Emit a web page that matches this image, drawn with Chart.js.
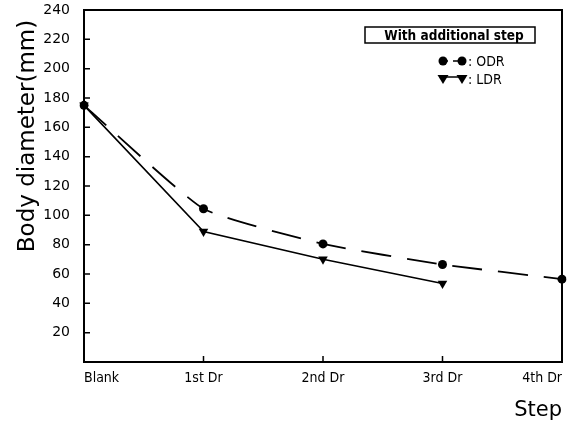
<!DOCTYPE html>
<html>
<head>
<meta charset="utf-8">
<script src="https://cdn.jsdelivr.net/npm/chart.js@4.4.1/dist/chart.umd.min.js"></script>
<style>
html,body{margin:0;padding:0;background:#fff;}
#wrap{width:577px;height:423px;position:relative;}
</style>
</head>
<body>
<div id="wrap"><canvas id="c" width="577" height="423"></canvas></div>
<script>
const categories = ['Blank', '1st Dr', '2nd Dr', '3rd Dr', '4th Dr'];
const odrValues = [175, 104.5, 80.5, 66.5, 56.5];
const ldrValues = [175, 89, 70, 53.5, null];
const yTicks = [20, 40, 60, 80, 100, 120, 140, 160, 180, 200, 220, 240];
const legendTitle = 'With additional step';
const seriesNames = ['ODR', 'LDR'];
const yTitle = 'Body diameter(mm)';
const xTitle = 'Step';

const FONT = "'DejaVu Sans', sans-serif";
const COND = "'DejaVu Sans Condensed', 'DejaVu Sans', sans-serif";

const framePlugin = {
  id: 'frame',
  afterDraw(chart) {
    const ctx = chart.ctx;
    const a = chart.chartArea;
    const xs = chart.scales.x, ys = chart.scales.y;
    ctx.save();
    ctx.strokeStyle = '#000';
    ctx.lineWidth = 2;
    ctx.strokeRect(a.left, a.top, a.right - a.left, a.bottom - a.top);
    ctx.lineWidth = 1.5;
    ctx.beginPath();
    yTicks.forEach(v => {
      const y = ys.getPixelForValue(v);
      ctx.moveTo(a.left, y);
      ctx.lineTo(a.left + 6, y);
    });
    categories.forEach((c, i) => {
      const x = xs.getPixelForValue(i);
      ctx.moveTo(x, a.bottom);
      ctx.lineTo(x, a.bottom - 6);
    });
    ctx.stroke();

    // y-axis title
    ctx.fillStyle = '#000';
    ctx.save();
    ctx.translate(28, 136);
    ctx.rotate(-Math.PI / 2);
    ctx.font = "23px 'DejaVu Sans', sans-serif";
    ctx.textAlign = 'center';
    ctx.textBaseline = 'middle';
    ctx.fillText(yTitle, 0, 0);
    ctx.restore();

    // legend box
    const bx = 365, by = 27, bw = 170, bh = 16;
    ctx.lineWidth = 1.5;
    ctx.strokeRect(bx, by, bw, bh);
    ctx.font = "bold 13.5px " + COND;
    ctx.textAlign = 'center';
    ctx.textBaseline = 'middle';
    ctx.fillText(legendTitle, bx + bw / 2 + 4, by + bh / 2 + 1);

    // ODR legend row
    const r1 = 61, r2 = 79;
    ctx.beginPath();
    ctx.arc(443, r1, 4.5, 0, Math.PI * 2);
    ctx.fill();
    ctx.beginPath();
    ctx.arc(462, r1, 4.5, 0, Math.PI * 2);
    ctx.fill();
    ctx.beginPath();
    ctx.moveTo(443, r1); ctx.lineTo(448, r1);
    ctx.moveTo(453, r1); ctx.lineTo(462, r1);
    ctx.stroke();
    // LDR legend row
    const tri = (x, y) => {
      ctx.beginPath();
      ctx.moveTo(x - 5.5, y - 4);
      ctx.lineTo(x + 5.5, y - 4);
      ctx.lineTo(x, y + 5);
      ctx.closePath();
      ctx.fill();
    };
    tri(443, r2); tri(462, r2);
    ctx.beginPath();
    ctx.moveTo(443, r2 - 2); ctx.lineTo(462, r2 - 2);
    ctx.stroke();
    ctx.font = "14px " + COND;
    ctx.textAlign = 'left';
    ctx.fillText(': ' + seriesNames[0], 468, r1 + 1);
    ctx.fillText(': ' + seriesNames[1], 468, r2 + 1);
    ctx.restore();
  }
};

new Chart(document.getElementById('c'), {
  type: 'line',
  data: {
    labels: categories,
    datasets: [
      {
        label: seriesNames[0],
        data: odrValues,
        borderColor: '#000',
        backgroundColor: '#000',
        borderWidth: 1.8,
        borderDash: [30, 16],
        pointStyle: 'circle',
        pointRadius: 4.5,
        pointBorderWidth: 0,
        tension: 0.15,
        fill: false
      },
      {
        label: seriesNames[1],
        data: ldrValues,
        borderColor: '#000',
        backgroundColor: '#000',
        borderWidth: 1.6,
        pointStyle: 'triangle',
        rotation: 180,
        pointRadius: 5.5,
        pointBorderWidth: 0,
        tension: 0,
        fill: false,
        spanGaps: false
      }
    ]
  },
  options: {
    responsive: false,
    animation: false,
    devicePixelRatio: 1,
    layout: { padding: { left: 0, right: 15, top: 10, bottom: 0 } },
    plugins: { legend: { display: false }, tooltip: { enabled: false } },
    scales: {
      x: {
        type: 'category',
        offset: false,
        grid: { display: false },
        border: { display: false },
        ticks: {
          color: '#000',
          font: { family: COND, size: 14 },
          padding: 0,
          align: 'inner',
          maxRotation: 0,
          autoSkip: false
        },
        title: {
          display: true,
          text: xTitle,
          align: 'end',
          color: '#000',
          font: { family: FONT, size: 21 },
          padding: { top: 14, bottom: 0 }
        },
        afterFit(s) { s.height = 61; s.paddingLeft = 0; s.paddingRight = 0; }
      },
      y: {
        min: 0,
        max: 240,
        grid: { display: false },
        border: { display: false },
        ticks: {
          stepSize: 20,
          color: '#000',
          font: { family: FONT, size: 14 },
          padding: 6,
          callback: v => (yTicks.includes(v) ? String(v) : '')
        },
        afterFit(s) { s.width = 84; s.paddingTop = 0; s.paddingBottom = 0; }
      }
    }
  },
  plugins: [framePlugin]
});
</script>
</body>
</html>
